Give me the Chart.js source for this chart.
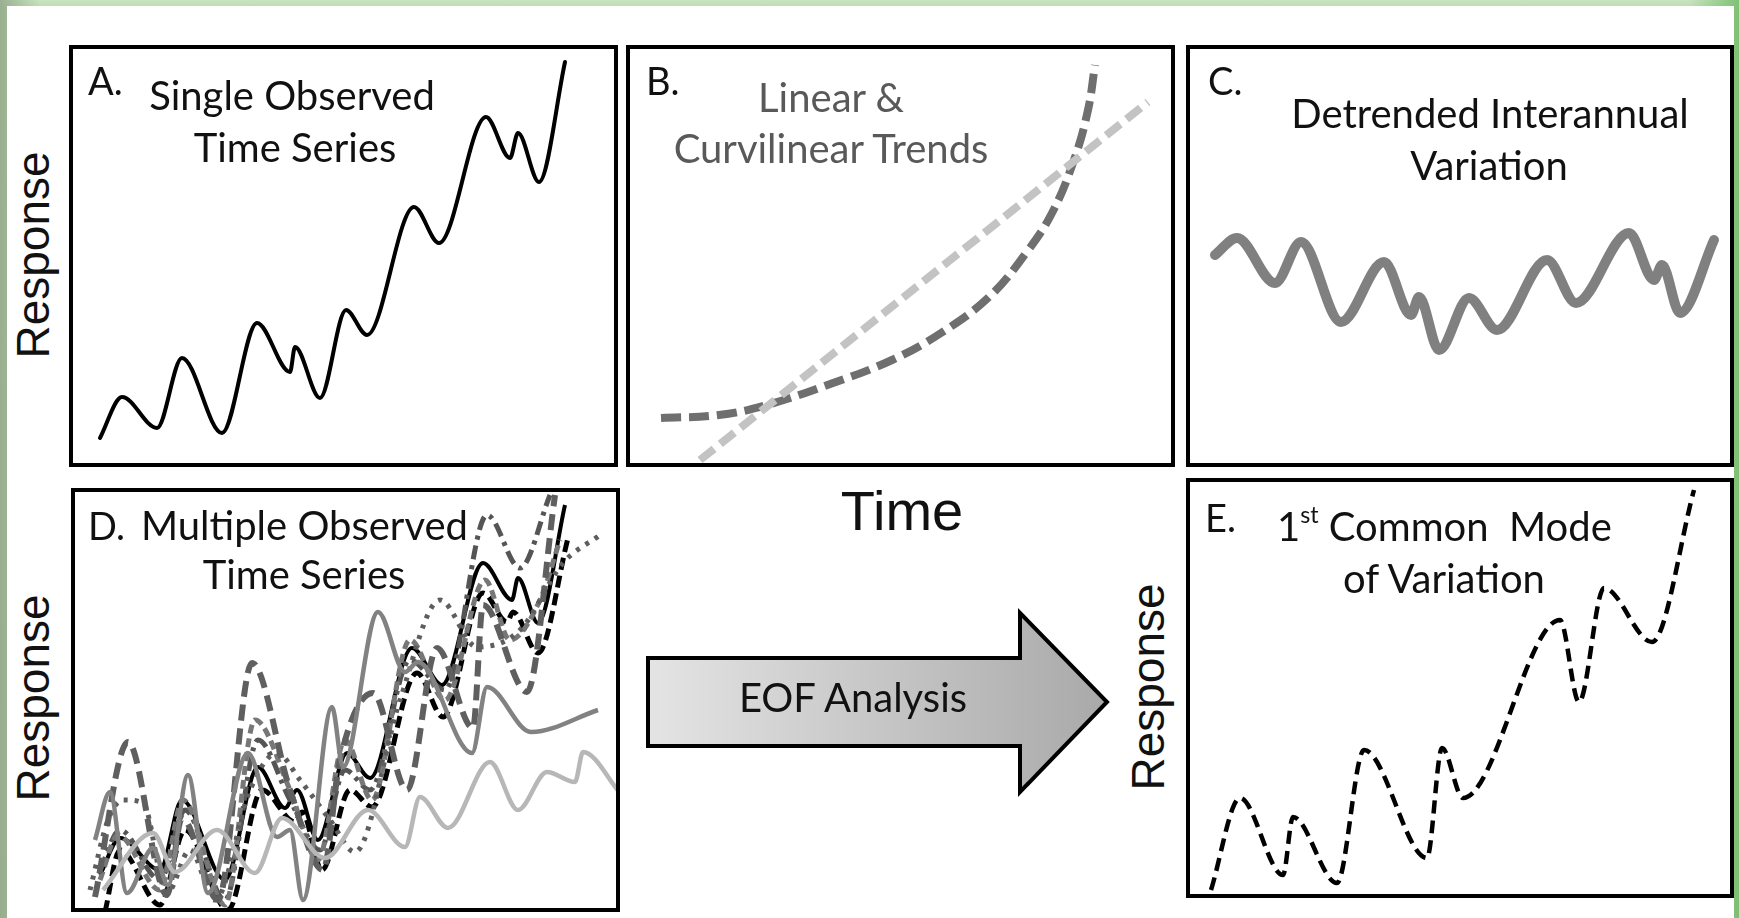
<!DOCTYPE html>
<html>
<head>
<meta charset="utf-8">
<script src="https://cdn.jsdelivr.net/npm/chart.js@4.4.1/dist/chart.umd.min.js"></script>
<style>
  html, body { margin:0; padding:0; }
  body {
    width:1739px; height:918px; position:relative; overflow:hidden;
    background:
      linear-gradient(90deg, rgba(150,170,140,0.9) 0px, rgba(190,220,180,0.0) 40px, rgba(0,0,0,0) 1690px, rgba(120,190,110,0.9) 1739px),
      linear-gradient(180deg, #c9e4c0 0px, #b6d9aa 10px, #a9c79e 918px);
  }
  #sheet { position:absolute; left:7px; top:6px; width:1727px; height:912px; background:#fff; }
  .panel { position:absolute; }
  .panel canvas { position:absolute; left:0; top:0; }
  .t { position:absolute; white-space:nowrap; font-family:Lato, "Open Sans", sans-serif; font-size:40px; line-height:40px; color:#111; }
  .c { text-align:center; transform:translateX(-50%); }
  .ax { position:absolute; font-family:"Liberation Sans", Arial, sans-serif; color:#111; white-space:nowrap; line-height:1; }
  .rot { transform:translate(-50%,-50%) rotate(-90deg); }
  sup { font-size:0.58em; vertical-align:0; position:relative; top:-0.75em; }
</style>
</head>
<body>
<div id="sheet"></div>

<script>
// ---------------- DATA (time, response) ----------------
// Panel A: single observed time series
const timeA = [31, 53, 88, 113, 153, 188, 221, 226, 251, 277, 298, 345, 370, 417, 441, 449, 470, 496];
const respA = [29, 70, 39, 109, 34, 144, 95, 120, 69, 157, 132, 260, 224, 350, 309, 334, 285, 405];

// Panel B: curvilinear and linear trends
const timeBcurve = [35, 93, 141, 207, 266, 315, 363, 400, 426, 448, 462, 469];
const respBcurve = [49, 52, 62, 84, 107, 134, 170, 214, 254, 307, 357, 402];
const timeBlinear = [74, 522];
const respBlinear = [7, 365];

// Panel C: detrended interannual variation
const timeC = [29, 51, 89, 115, 155, 198, 225, 233, 253, 283, 311, 361, 390, 443, 468, 476, 494, 528];
const respC = [212, 229, 184, 225, 145, 205, 152, 170, 117, 169, 137, 207, 164, 234, 187, 202, 154, 227];

// Panel D: multiple observed time series
const timeD1 = [29, 49, 89, 111, 154, 187, 214, 226, 247, 276, 299, 341, 371, 412, 441, 447, 467, 494];
const respD1 = [37, 74, 42, 112, 32, 145, 104, 122, 72, 159, 134, 264, 227, 349, 312, 334, 289, 407];
const timeD2 = [34, 49, 89, 114, 157, 191, 224, 231, 251, 279, 301, 346, 372, 412, 436, 442, 467, 497];
const respD2 = [0, 62, 7, 82, 2, 122, 90, 100, 42, 122, 105, 239, 195, 319, 290, 300, 259, 374];
const timeD3 = [24, 57, 96, 111, 147, 181, 219, 252, 269, 302, 336, 366, 402, 412, 456, 484];
const respD3 = [15, 170, 17, 94, 12, 249, 122, 42, 152, 219, 122, 264, 184, 307, 220, 417];
const timeD4 = [24, 39, 56, 82, 97, 117, 137, 177, 206, 219, 232, 261, 272, 307, 334, 347, 401, 416, 460, 527];
const respD4 = [72, 120, 19, 64, 27, 137, 19, 159, 75, 82, 12, 205, 145, 300, 240, 250, 159, 225, 180, 202];
const timeD5 = [32, 82, 104, 146, 184, 211, 254, 297, 334, 349, 377, 419, 447, 476, 504, 512, 549];
const respD5 = [22, 79, 40, 82, 39, 94, 54, 102, 65, 115, 84, 150, 102, 140, 130, 160, 119];
const timeD6 = [19, 37, 52, 72, 96, 119, 144, 179, 206, 229, 259, 284, 329, 369, 406, 449, 492, 529];
const respD6 = [22, 92, 112, 109, 19, 62, 12, 122, 159, 132, 92, 60, 212, 312, 265, 282, 349, 377];
const timeD7 = [29, 49, 89, 114, 154, 187, 219, 249, 274, 299, 339, 374, 416, 449, 479];
const respD7 = [42, 82, 32, 102, 12, 172, 112, 62, 142, 122, 252, 222, 397, 344, 417];
const timeD8 = [29, 47, 89, 112, 154, 184, 219, 247, 274, 301, 339, 374, 414, 439, 469, 489];
const respD8 = [32, 77, 22, 112, 7, 192, 122, 52, 172, 112, 272, 212, 332, 272, 312, 372];

// Panel E: first common mode of variation
const timeE = [25, 54, 97, 107, 151, 178, 241, 256, 277, 374, 393, 418, 466, 508];
const respE = [8, 100, 23, 81, 15, 148, 40, 150, 100, 278, 196, 310, 256, 408];

// ---------------- layout ----------------
const sheet = document.getElementById('sheet');
const OX = 7, OY = 6;

function pts(xs, ys) { return xs.map((x, i) => ({ x: x, y: ys[i] })); }

const borderPlugin = {
  id: 'panelBorder',
  afterDraw(chart) {
    const ctx = chart.ctx;
    ctx.save();
    ctx.setLineDash([]);
    ctx.lineWidth = 4;
    ctx.strokeStyle = '#000';
    ctx.strokeRect(2, 2, chart.width - 4, chart.height - 4);
    ctx.restore();
  }
};

function makePanel(left, top, w, h, datasets) {
  const div = document.createElement('div');
  div.className = 'panel';
  div.style.left = (left - OX) + 'px';
  div.style.top = (top - OY) + 'px';
  div.style.width = w + 'px';
  div.style.height = h + 'px';
  const cv = document.createElement('canvas');
  cv.width = w; cv.height = h;
  cv.style.width = w + 'px'; cv.style.height = h + 'px';
  div.appendChild(cv);
  sheet.appendChild(div);
  new Chart(cv, {
    type: 'line',
    data: { datasets: datasets },
    options: {
      responsive: false,
      animation: false,
      events: [],
      layout: { padding: 0 },
      elements: { point: { radius: 0 } },
      scales: {
        x: { type: 'linear', min: 0, max: w, display: false },
        y: { type: 'linear', min: 0, max: h, display: false }
      },
      plugins: { legend: { display: false }, tooltip: { enabled: false } }
    },
    plugins: [borderPlugin]
  });
}

function ds(xs, ys, color, width, dash, extra) {
  return Object.assign({
    data: pts(xs, ys),
    borderColor: color,
    borderWidth: width,
    borderDash: dash || [],
    cubicInterpolationMode: 'monotone',
    fill: false,
    pointRadius: 0,
    borderCapStyle: 'butt',
    borderJoinStyle: 'round',
    clip: false
  }, extra || {});
}

// A
makePanel(69, 45, 549, 422, [ ds(timeA, respA, '#000', 4, [], { borderCapStyle: 'round' }) ]);
// B
makePanel(626, 45, 549, 422, [
  ds(timeBlinear, respBlinear, '#c3c3c3', 8, [18, 8]),
  ds(timeBcurve, respBcurve, '#6f6f6f', 8, [20, 8], { cubicInterpolationMode: 'default', tension: 0.4 })
]);
// C
makePanel(1186, 45, 548, 422, [ ds(timeC, respC, '#808080', 10, [], { borderCapStyle: 'round' }) ]);
// D
makePanel(71, 488, 549, 424, [
  ds(timeD5, respD5, '#b7b7b7', 4.5, []),
  ds(timeD4, respD4, '#828282', 4.5, []),
  ds(timeD6, respD6, '#5e5e5e', 5, [4, 7]),
  ds(timeD3, respD3, '#5f5f5f', 6, [16, 8]),
  ds(timeD8, respD8, '#777777', 5, [9, 5]),
  ds(timeD7, respD7, '#555555', 5, [14, 6, 4, 6]),
  ds(timeD2, respD2, '#000', 5, [12, 6]),
  ds(timeD1, respD1, '#000', 4, [])
]);
// E
makePanel(1186, 478, 548, 420, [ ds(timeE, respE, '#000', 4.5, [13, 7]) ]);

// ---------------- texts ----------------
function txt(html, x, baseline, cls, color, size) {
  const d = document.createElement('div');
  d.className = 't ' + (cls || '');
  const F = size || 40;
  d.style.fontSize = F + 'px';
  d.style.lineHeight = F + 'px';
  d.style.left = (x - OX) + 'px';
  d.style.top = (baseline - 0.887 * F - OY) + 'px';
  if (color) d.style.color = color;
  d.innerHTML = html;
  sheet.appendChild(d);
}
txt('A.', 88, 95, '', null, 38);
txt('Single Observed', 292, 110, 'c');
txt('Time Series', 295, 162, 'c');

txt('B.', 646, 95, '', null, 38);
txt('Linear &amp;', 831, 112, 'c', '#595959');
txt('Curvilinear Trends', 831, 163, 'c', '#595959');

txt('C.', 1208, 95, '', null, 38);
txt('Detrended Interannual', 1490, 128, 'c');
txt('Variation', 1489, 180, 'c');

txt('D.', 88, 540, '', null, 38);
txt('Multiple Observed', 141, 540);
txt('Time Series', 304, 589, 'c');

txt('E.', 1205, 532, '', null, 38);
txt('1<sup>st</sup> Common&nbsp; Mode', 1277, 541);
txt('of Variation', 1444, 593, 'c');

function ax(text, cx, cy, size, rot) {
  const d = document.createElement('div');
  d.className = 'ax' + (rot ? ' rot' : '');
  d.style.fontSize = size + 'px';
  d.style.left = (cx - OX) + 'px';
  d.style.top = (cy - OY) + 'px';
  if (!rot) d.style.transform = 'translate(-50%,-50%)';
  d.textContent = text;
  sheet.appendChild(d);
}
ax('Response', 33, 255, 46, true);
ax('Response', 33, 698, 46, true);
ax('Response', 1148, 687, 46, true);
ax('Time', 902, 511, 56, false);

// EOF arrow
const svgNS = 'http://www.w3.org/2000/svg';
const svg = document.createElementNS(svgNS, 'svg');
svg.setAttribute('width', '1727'); svg.setAttribute('height', '912');
svg.style.position = 'absolute'; svg.style.left = '0px'; svg.style.top = '0px';
svg.innerHTML =
  '<defs><linearGradient id="ag" x1="0" y1="0" x2="1" y2="0">' +
  '<stop offset="0" stop-color="#e4e4e4"/><stop offset="1" stop-color="#a9a9a9"/></linearGradient></defs>' +
  '<polygon points="' + [[648,658],[1020,658],[1020,613],[1107,702],[1020,792],[1020,746],[648,746]]
    .map(p => (p[0]-OX) + ',' + (p[1]-OY)).join(' ') +
  '" fill="url(#ag)" stroke="#000" stroke-width="4" stroke-linejoin="miter"/>';
sheet.appendChild(svg);
txt('EOF Analysis', 853, 712, 'c');
</script>
</body>
</html>
